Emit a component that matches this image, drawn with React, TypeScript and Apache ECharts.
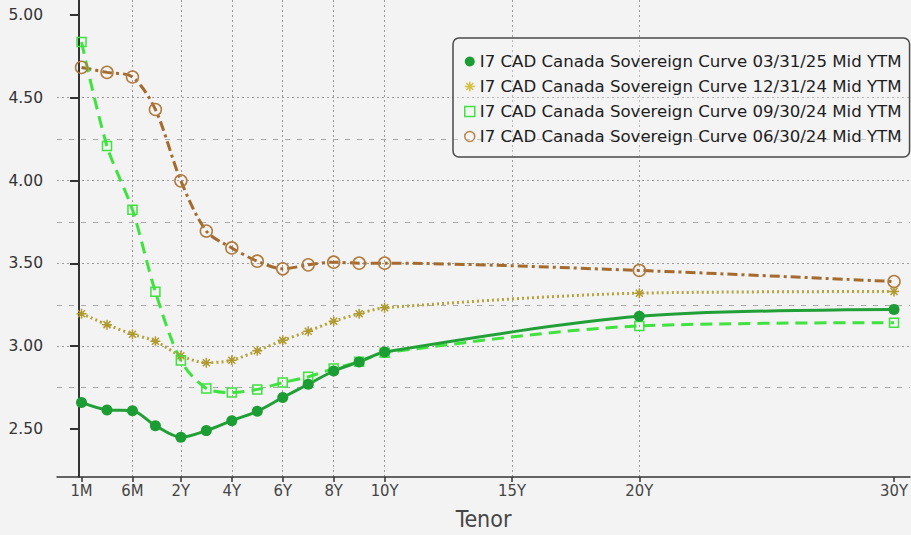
import React, { useEffect, useRef } from "react";
import * as echarts from "echarts";

// Tenors of the curve points and their place on the (Bloomberg-style) tenor axis
const tenors = ["1M", "3M", "6M", "1Y", "2Y", "3Y", "4Y", "5Y", "6Y", "7Y", "8Y", "9Y", "10Y", "20Y", "30Y"];
const tenorPos = [0.1, 1.1, 2.1, 3, 4, 5, 6, 7, 8, 9, 10, 11, 12, 22, 32];

// Axis ticks
const xTickPos = [0.1, 2.1, 4, 6, 8, 10, 12, 17, 22, 32];
const xTickLabels = ["1M", "6M", "2Y", "4Y", "6Y", "8Y", "10Y", "15Y", "20Y", "30Y"];
const yMajorTicks = [2.5, 3.0, 3.5, 4.0, 4.5, 5.0];
const yMinorTicks = [2.25, 2.75, 3.25, 3.75, 4.25, 4.75];

// Mid YTM values
const curve033125 = [2.66, 2.615, 2.61, 2.52, 2.45, 2.49, 2.55, 2.607, 2.69, 2.77, 2.85, 2.905, 2.965, 3.18, 3.222];
const curve123124 = [3.196, 3.13, 3.072, 3.03, 2.942, 2.9, 2.915, 2.972, 3.035, 3.09, 3.15, 3.196, 3.232, 3.32, 3.33];
const curve093024 = [4.836, 4.208, 3.823, 3.328, 2.913, 2.745, 2.72, 2.739, 2.78, 2.815, 2.865, 2.906, 2.96, 3.122, 3.142];
const curve063024 = [4.683, 4.653, 4.625, 4.429, 3.998, 3.695, 3.593, 3.513, 3.467, 3.491, 3.507, 3.501, 3.501, 3.457, 3.39];

const names = [
  "I7 CAD Canada Sovereign Curve 03/31/25 Mid YTM",
  "I7 CAD Canada Sovereign Curve 12/31/24 Mid YTM",
  "I7 CAD Canada Sovereign Curve 09/30/24 Mid YTM",
  "I7 CAD Canada Sovereign Curve 06/30/24 Mid YTM",
];

const ASTERISK = "path://M5,0L5,10M0,5L10,5M1.5,1.5L8.5,8.5M8.5,1.5L1.5,8.5";

const C_GREEN = "#1b9d33";
const C_LIME = "#3fe23f";
const C_OLIVE = "#b5a33c";
const C_BROWN = "#a46a2e";
const NARROW = "'DejaVu Sans Condensed', 'DejaVu Sans', sans-serif";

function pts(vals: number[]) {
  return vals.map((v, i) => [tenorPos[i], v]);
}

export default function App() {
  const ref = useRef<HTMLDivElement>(null);
  useEffect(() => {
    if (!ref.current) return;
    const chart = echarts.init(ref.current, null, { renderer: "svg" });
    const gridDot = { color: "#9a9a9a", width: 1, type: [2, 3] as any };
    chart.setOption({
      animation: false,
      backgroundColor: "#f3f3f3",
      grid: { left: 57, right: 0, top: 0, bottom: 56, containLabel: false },
      legend: {
        left: 453,
        top: 38,
        orient: "vertical",
        padding: [15, 8, 12, 11],
        itemGap: 8,
        itemWidth: 10,
        itemHeight: 10,
        backgroundColor: "rgba(245,245,245,0.35)",
        borderColor: "#4a4a4a",
        borderWidth: 1.5,
        borderRadius: 6,
        textStyle: { fontFamily: "DejaVu Sans", fontSize: 16.6, color: "#1e1e1e" },
        data: [
          { name: names[0], icon: "circle", itemStyle: { color: C_GREEN, borderWidth: 0 } },
          { name: names[1], icon: ASTERISK, itemStyle: { color: C_OLIVE, borderColor: "#d6c040", borderWidth: 1.5 } },
          { name: names[2], icon: "rect", itemStyle: { color: "rgba(0,0,0,0)", borderColor: C_LIME, borderWidth: 1.5 } },
          { name: names[3], icon: "circle", itemStyle: { color: "rgba(0,0,0,0)", borderColor: "#b98448", borderWidth: 1.5 } },
        ],
      },
      xAxis: {
        type: "value",
        min: -0.863,
        max: 32.63,
        name: "Tenor",
        nameLocation: "middle",
        nameGap: 30,
        nameTextStyle: { fontFamily: NARROW, fontSize: 23, color: "#454545" },
        axisLine: { show: true, lineStyle: { color: "#333", width: 1.5 } },
        axisTick: { show: true, customValues: xTickPos, length: 5, lineStyle: { color: "#333", width: 1.5 } },
        axisLabel: {
          customValues: xTickPos,
          margin: 5,
          fontFamily: NARROW,
          fontSize: 16.5,
          color: "#444",
          formatter: (v: number) => {
            let best = 0;
            xTickPos.forEach((p, i) => {
              if (Math.abs(p - v) < Math.abs(xTickPos[best] - v)) best = i;
            });
            return xTickLabels[best];
          },
        },
        splitLine: { show: true, showMinLine: false, showMaxLine: false, lineStyle: gridDot },
      },
      yAxis: [
        {
          type: "value",
          min: 2.21,
          max: 5.09,
          axisLine: { show: true, lineStyle: { color: "#333", width: 2 } },
          axisTick: { show: true, customValues: yMajorTicks, length: 9, lineStyle: { color: "#333", width: 2 } },
          axisLabel: {
            customValues: yMajorTicks,
            margin: 14,
            fontFamily: "DejaVu Sans",
            fontSize: 15.5,
            color: "#333",
            formatter: (v: number) => v.toFixed(2),
          },
          splitLine: { show: true, showMinLine: false, showMaxLine: false, lineStyle: gridDot },
        },
        {
          type: "value",
          min: 2.21,
          max: 5.09,
          position: "left",
          axisLine: { show: false },
          axisTick: { show: false, customValues: yMinorTicks },
          axisLabel: { show: false, customValues: yMinorTicks },
          splitLine: {
            show: true,
            showMinLine: false,
            showMaxLine: false,
            lineStyle: { color: "#a8a8a8", width: 1, type: [5, 7] },
          },
        },
      ],
      series: [
        {
          name: names[3],
          type: "line",
          smooth: 0.3,
          data: pts(curve063024),
          symbol: "circle",
          symbolSize: 12,
          itemStyle: { color: "rgba(0,0,0,0)", borderColor: "#b07a3c", borderWidth: 1.5 },
          lineStyle: { color: C_BROWN, width: 3, type: [10, 4, 3, 4] },
          emphasis: { disabled: true },
        },
        {
          name: names[1],
          type: "line",
          smooth: 0.3,
          data: pts(curve123124),
          symbol: ASTERISK,
          symbolSize: 10,
          itemStyle: { color: C_OLIVE, borderColor: "#b09a30", borderWidth: 1.5 },
          lineStyle: { color: C_OLIVE, width: 3, type: [2, 3] },
          emphasis: { disabled: true },
        },
        {
          name: names[2],
          type: "line",
          smooth: 0.3,
          data: pts(curve093024),
          symbol: "rect",
          symbolSize: 9,
          itemStyle: { color: "rgba(0,0,0,0)", borderColor: C_LIME, borderWidth: 1.5 },
          lineStyle: { color: C_LIME, width: 3, type: [12, 7] },
          emphasis: { disabled: true },
        },
        {
          name: names[0],
          type: "line",
          smooth: 0.3,
          data: pts(curve033125),
          symbol: "circle",
          symbolSize: 11,
          itemStyle: { color: C_GREEN },
          lineStyle: { color: "#22a038", width: 3 },
          emphasis: { disabled: true },
        },
      ],
    });
    return () => chart.dispose();
  }, []);
  return (
    <div
      ref={ref}
      style={{ position: "fixed", left: 0, top: 0, width: 911, height: 535, background: "#f3f3f3" }}
    />
  );
}
